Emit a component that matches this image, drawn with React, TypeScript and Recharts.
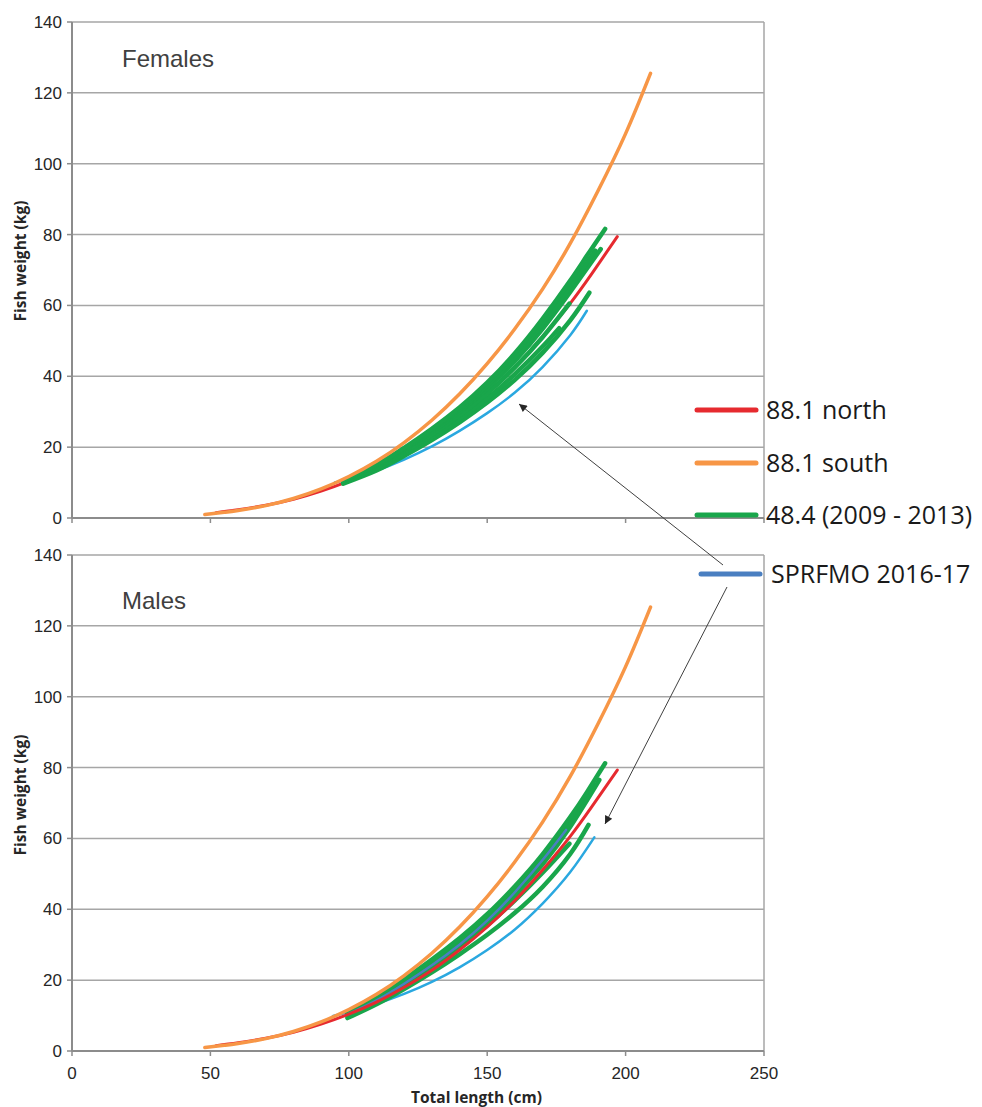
import { LineChart, Line, XAxis, YAxis, CartesianGrid, ReferenceLine } from "recharts";

type Pt = [number, number]; // [total length cm, weight kg]

const lengthTicks = [0, 50, 100, 150, 200, 250];
const weightTicks = [0, 20, 40, 60, 80, 100, 120, 140];

// ---- Females ----
const femSouth: Pt[] = [
  [48, 1.0], [55, 1.6], [60, 2.1], [70, 3.5], [80, 5.5], [90, 8.2], [100, 11.7], [110, 16.0],
  [120, 21.3], [130, 27.6], [140, 35.0], [150, 43.6], [160, 53.4], [170, 64.6], [180, 77.5],
  [190, 92.3], [200, 108.5], [209, 125.5],
];
const femNorth: Pt[] = [
  [52, 1.5], [60, 2.3], [70, 3.6], [80, 5.3], [90, 7.6], [100, 10.4], [110, 13.8], [120, 18.0],
  [130, 22.8], [140, 28.5], [150, 35.0], [160, 42.5], [170, 51.1], [180, 60.6], [188, 69.2], [197, 79.4],
];
const femSprfmo: Pt[] = [
  [95, 10.0], [100, 10.9], [110, 13.4], [120, 16.5], [130, 20.2], [140, 24.6], [150, 29.6],
  [160, 35.4], [170, 42.6], [180, 51.6], [186, 58.5],
];
const fem484a: Pt[] = [
  [98, 10.6], [110, 15.1], [120, 19.8], [130, 25.2], [140, 31.2], [150, 38.2], [160, 46.5],
  [170, 56.2], [180, 67.0], [186, 74.0], [192.6, 81.6],
];
const fem484f: Pt[] = [
  [98, 10.5], [110, 14.9], [120, 19.5], [130, 24.8], [140, 30.6], [150, 37.4], [160, 45.4],
  [170, 54.8], [180, 65.3], [189, 75.5],
];
const fem484b: Pt[] = [
  [98, 10.3], [110, 14.6], [120, 19.2], [130, 24.3], [140, 30.0], [150, 36.6], [160, 44.3],
  [170, 53.4], [180, 63.8], [191, 75.9],
];
const fem484c: Pt[] = [
  [98, 10.1], [110, 14.2], [120, 18.6], [130, 23.5], [140, 29.0], [150, 35.2], [160, 42.5],
  [170, 51.0], [179.7, 60.5],
];
const fem484d: Pt[] = [
  [98, 10.0], [110, 13.9], [120, 18.1], [130, 22.8], [140, 28.0], [150, 33.8], [160, 40.6],
  [170, 48.4], [176, 53.6],
];
const fem484e: Pt[] = [
  [98, 9.7], [110, 13.4], [120, 17.5], [130, 22.0], [140, 27.0], [150, 32.6], [160, 39.0],
  [170, 46.6], [180, 55.8], [186.9, 63.6],
];

// ---- Males ----
const maleSouth: Pt[] = [
  [48, 1.0], [55, 1.6], [60, 2.1], [70, 3.5], [80, 5.5], [90, 8.2], [100, 11.7], [110, 16.0],
  [120, 21.3], [130, 27.6], [140, 35.0], [150, 43.6], [160, 53.4], [170, 64.6], [180, 77.5],
  [190, 92.3], [200, 108.5], [209, 125.3],
];
const maleNorth: Pt[] = [
  [52, 1.5], [60, 2.3], [70, 3.6], [80, 5.3], [90, 7.6], [100, 10.4], [110, 13.8], [120, 18.0],
  [130, 22.8], [140, 28.5], [150, 35.0], [160, 42.5], [170, 51.1], [180, 60.6], [188, 69.2], [197, 79.3],
];
const maleSprfmo: Pt[] = [
  [94.3, 9.9], [100, 11.0], [110, 13.3], [120, 16.1], [130, 19.5], [140, 23.6], [150, 28.5],
  [160, 34.3], [170, 41.6], [180, 50.5], [188.7, 60.3],
];
const maleSprfmoFit: Pt[] = [
  [100, 10.5], [110, 14.3], [120, 19.0], [130, 24.2], [140, 30.0], [150, 36.8], [160, 44.8],
  [170, 53.9], [178.5, 62.4],
];
const male484a: Pt[] = [
  [99.5, 10.8], [110, 15.0], [120, 20.2], [130, 25.8], [140, 31.8], [150, 38.6], [160, 46.5],
  [170, 55.5], [180, 66], [186, 73], [192.6, 81.2],
];
const male484e: Pt[] = [
  [99.5, 10.6], [110, 14.7], [120, 19.7], [130, 25.2], [140, 31.0], [150, 37.6], [160, 45.2],
  [170, 54.0], [180, 64.6], [189, 75.0],
];
const male484b: Pt[] = [
  [99.5, 10.4], [110, 14.4], [120, 19.3], [130, 24.6], [140, 30.3], [150, 36.6], [160, 44],
  [170, 52.7], [180, 63.3], [190.5, 76.5],
];
const male484c: Pt[] = [
  [99.5, 10.1], [110, 14.0], [120, 18.7], [130, 23.8], [140, 29.3], [150, 35.5], [160, 42.5],
  [170, 50.3], [179.7, 58.5],
];
const male484d: Pt[] = [
  [99.5, 9.3], [110, 13.2], [120, 17.5], [130, 22.2], [140, 27.3], [150, 32.8], [160, 39.0],
  [170, 46.3], [180, 55.6], [186.6, 63.8],
];

const ORANGE = "#f79646";
const RED = "#e62a2f";
const GREEN = "#19a64b";
const LIGHTBLUE = "#2aa8e0";
const STEEL = "#4a7fc1";

type Series = { id: string; pts: Pt[]; color: string; width: number };

const femaleSeries: Series[] = [
  { id: "sprfmo", pts: femSprfmo, color: LIGHTBLUE, width: 2.5 },
  { id: "north", pts: femNorth, color: RED, width: 3 },
  { id: "g1", pts: fem484e, color: GREEN, width: 4.5 },
  { id: "g2", pts: fem484d, color: GREEN, width: 4.5 },
  { id: "g3", pts: fem484c, color: GREEN, width: 4.5 },
  { id: "g4", pts: fem484b, color: GREEN, width: 4.5 },
  { id: "g5", pts: fem484f, color: GREEN, width: 4.5 },
  { id: "g6", pts: fem484a, color: GREEN, width: 4.5 },
  { id: "south", pts: femSouth, color: ORANGE, width: 3.5 },
];

const maleSeries: Series[] = [
  { id: "sprfmo", pts: maleSprfmo, color: LIGHTBLUE, width: 2.5 },
  { id: "g1", pts: male484d, color: GREEN, width: 4.5 },
  { id: "g2", pts: male484c, color: GREEN, width: 4.5 },
  { id: "g3", pts: male484b, color: GREEN, width: 4.5 },
  { id: "g4", pts: male484e, color: GREEN, width: 4.5 },
  { id: "g5", pts: male484a, color: GREEN, width: 4.5 },
  { id: "fit", pts: maleSprfmoFit, color: STEEL, width: 2.5 },
  { id: "north", pts: maleNorth, color: RED, width: 3 },
  { id: "south", pts: maleSouth, color: ORANGE, width: 3.5 },
];

const AXIS = "#8c8c8c";
const GRID = "#a6a6a6";
const tickFont = { fontSize: 17, fill: "#262626", fontFamily: "Liberation Sans, Arial, sans-serif" };

function Panel({ series, height, xAxisHeight, labels }: { series: Series[]; height: number; xAxisHeight: number; labels: boolean }) {
  return (
    <LineChart width={982} height={height} margin={{ top: 22, right: 218, bottom: 0, left: 32 }}>
      <CartesianGrid vertical={false} stroke={GRID} strokeWidth={1.5} />
      <XAxis
        type="number"
        dataKey="x"
        domain={[0, 250]}
        ticks={lengthTicks}
        height={xAxisHeight}
        tickSize={5}
        tickMargin={11}
        stroke={AXIS}
        axisLine={{ stroke: AXIS, strokeWidth: 2 }}
        tickLine={{ stroke: AXIS, strokeWidth: 1.5 }}
        tick={labels ? tickFont : () => <g />}
      />
      <YAxis
        type="number"
        domain={[0, 140]}
        ticks={weightTicks}
        width={40}
        tickSize={5}
        tickMargin={5}
        axisLine={{ stroke: AXIS, strokeWidth: 2 }}
        tickLine={{ stroke: AXIS, strokeWidth: 1.5 }}
        tick={tickFont}
      />
      <ReferenceLine x={250} stroke={GRID} strokeWidth={1.5} />
      {series.map((s) => (
        <Line
          key={s.id}
          data={s.pts.map(([x, y]) => ({ x, y }))}
          dataKey="y"
          type="natural"
          stroke={s.color}
          strokeWidth={s.width}
          strokeLinecap="round"
          dot={false}
          activeDot={false}
          isAnimationActive={false}
        />
      ))}
    </LineChart>
  );
}

const legendItems = [
  { label: "88.1 north", color: RED, y: 410, x1: 697, x2: 756, tx: 766 },
  { label: "88.1 south", color: ORANGE, y: 463, x1: 697, x2: 756, tx: 766 },
  { label: "48.4 (2009 - 2013)", color: GREEN, y: 515, x1: 697, x2: 756, tx: 766 },
  { label: "SPRFMO 2016-17", color: STEEL, y: 574, x1: 701, x2: 760, tx: 771 },
];

export default function App() {
  const titleFont = "Open Sans, sans-serif";
  return (
    <div style={{ position: "absolute", left: 0, top: 0, width: 982, height: 1107, background: "#fff" }}>
      <div style={{ position: "absolute", left: 0, top: 0 }}>
        <Panel series={femaleSeries} height={540} xAxisHeight={22} labels={false} />
      </div>
      <div style={{ position: "absolute", left: 0, top: 533 }}>
        <Panel series={maleSeries} height={574} xAxisHeight={56} labels={true} />
      </div>
      <svg width={982} height={1107} style={{ position: "absolute", left: 0, top: 0, pointerEvents: "none" }}>
        <defs>
          <marker id="arrowHead" viewBox="0 0 10 10" refX="10" refY="5" markerWidth="11" markerHeight="8" markerUnits="userSpaceOnUse" orient="auto">
            <path d="M0,0 L10,5 L0,10 z" fill="#262626" />
          </marker>
        </defs>
        <text x={122} y={67} fontSize={24} fill="#404040" fontFamily="Liberation Sans, Arial, sans-serif">Females</text>
        <text x={122} y={609} fontSize={24} fill="#404040" fontFamily="Liberation Sans, Arial, sans-serif">Males</text>
        <text transform="translate(26,261) rotate(-90)" textAnchor="middle" fontSize={15.5} fontWeight="bold" fill="#262626" fontFamily={titleFont}>Fish weight (kg)</text>
        <text transform="translate(26,795) rotate(-90)" textAnchor="middle" fontSize={15.5} fontWeight="bold" fill="#262626" fontFamily={titleFont}>Fish weight (kg)</text>
        <text x={411} y={1103} fontSize={15.5} fontWeight="bold" fill="#262626" fontFamily={titleFont}>Total length (cm)</text>
        {legendItems.map((it) => (
          <g key={it.label}>
            <line x1={it.x1} x2={it.x2} y1={it.y} y2={it.y} stroke={it.color} strokeWidth={5} strokeLinecap="round" />
            <text x={it.tx} y={it.y} dy="0.36em" fontSize={25} fill="#1a1a1a" fontFamily={titleFont}>{it.label}</text>
          </g>
        ))}
        <line x1={723} y1={565} x2={519} y2={404} stroke="#404040" strokeWidth={1} markerEnd="url(#arrowHead)" />
        <line x1={727} y1={587} x2={605} y2={824} stroke="#404040" strokeWidth={1} markerEnd="url(#arrowHead)" />
      </svg>
    </div>
  );
}
